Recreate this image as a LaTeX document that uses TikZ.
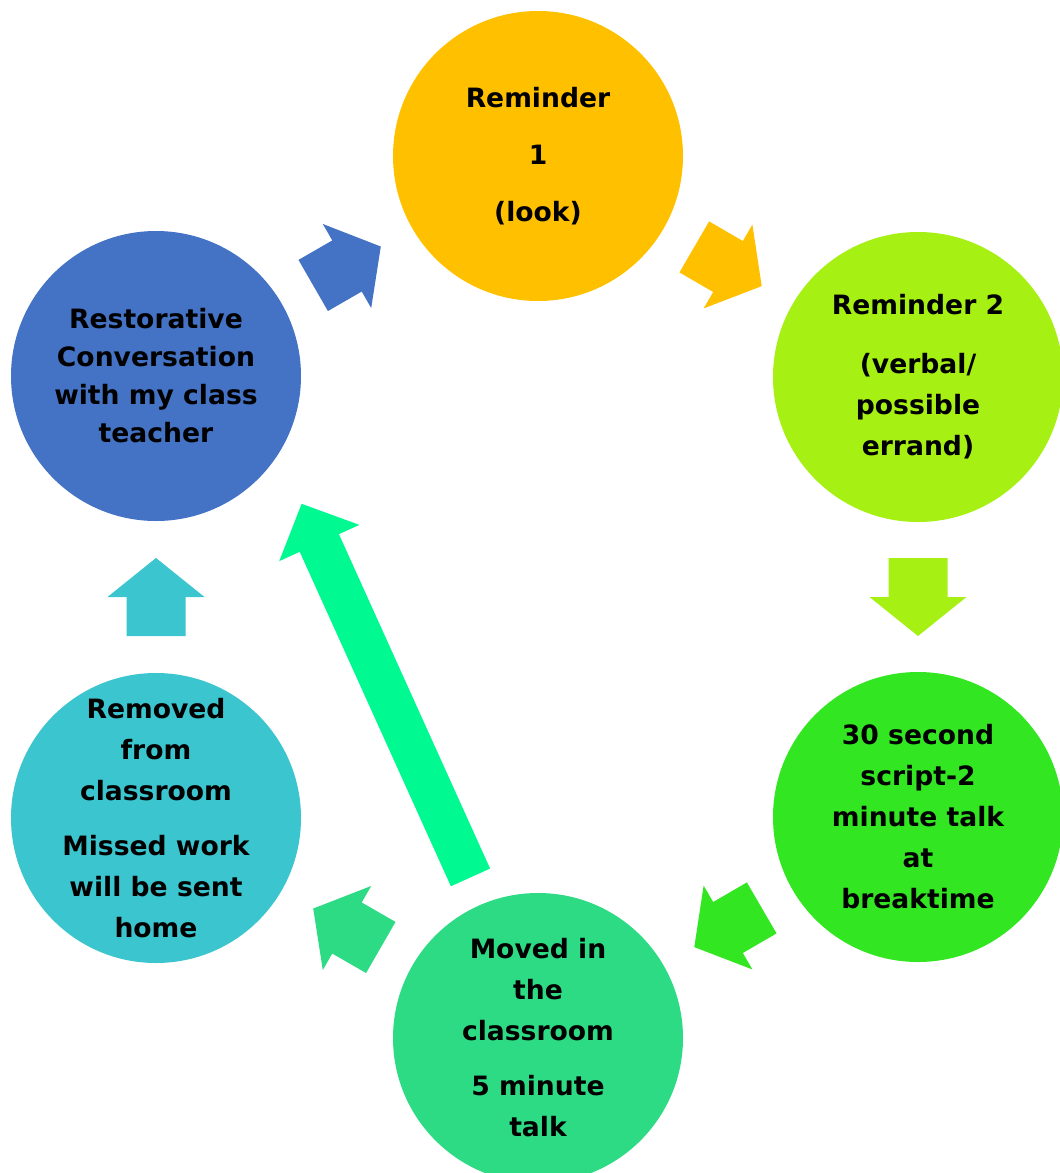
\documentclass[tikz,border=0pt]{standalone}
\usepackage{fontspec}
\setmainfont{DejaVu Sans}
\usetikzlibrary{calc}
\definecolor{cone}{HTML}{FFC000}
\definecolor{ctwo}{HTML}{A6F014}
\definecolor{cthree}{HTML}{32E622}
\definecolor{cfour}{HTML}{2EDB85}
\definecolor{cfive}{HTML}{3AC5CF}
\definecolor{csix}{HTML}{4472C4}
\definecolor{cbig}{HTML}{00F990}
\tikzset{
  stage/.style={circle, minimum size=145pt, inner sep=-30pt, align=center,
    text=black, font=\fontsize{13.3}{20.5}\selectfont\bfseries},
  pics/barrow/.style n args={4}{code={
    \fill ({-#1/2},{-#2}) -- ({#1/2-#4},{-#2}) -- ({#1/2-#4},{-#3}) -- ({#1/2},0)
      -- ({#1/2-#4},{#3}) -- ({#1/2-#4},{#2}) -- ({-#1/2},{#2}) -- cycle;
  }}
}
\newcommand\linkarrow[3]{%
  \path let \p1=(#1), \p2=(#2), \n1={atan2(\y2-\y1,\x2-\x1)} in
    ($(\p1)!0.5!(\p2)$) pic[rotate=\n1, fill=#3] {barrow={78}{29.5}{48.5}{39}};}
\begin{document}
\begin{tikzpicture}[x=0.5pt,y=-0.5pt]
\useasboundingbox (0,0) rectangle (1060,1173);
\node[stage, fill=cone] (r1) at (538,156) {Reminder\\[8pt]1\\[8pt](look)};
\node[stage, fill=ctwo] (r2) at (918,377) {Reminder 2\\[9pt](verbal/\\possible\\errand)};
\node[stage, fill=cthree] (r3) at (918,817) {30 second\\script-2\\minute talk\\at\\breaktime};
\node[stage, fill=cfour] (r4) at (538,1038) {Moved in\\the\\classroom\\[7pt]5 minute\\talk};
\node[stage, fill=cfive] (r5) at (156,818) {Removed\\from\\classroom\\[7pt]Missed work\\will be sent\\home};
\node[stage, fill=csix, font=\fontsize{13.3}{19}\selectfont\bfseries] (r6) at (156,376) {Restorative\\Conversation\\with my class\\teacher};
\linkarrow{r6.center}{r1.center}{csix}
\linkarrow{r1.center}{r2.center}{cone}
\linkarrow{r2.center}{r3.center}{ctwo}
\linkarrow{r3.center}{r4.center}{cthree}
\linkarrow{r4.center}{r5.center}{cfour}
\linkarrow{r5.center}{r6.center}{cfive}
\coordinate (bt) at (470.4,877.2);
\coordinate (bh) at (301.7,504);
\path let \p1=(bt), \p2=(bh), \n1={atan2(\y2-\y1,\x2-\x1)} in
  ($(\p1)!0.5!(\p2)$) pic[rotate=\n1, fill=cbig] {barrow={410}{21.5}{44}{43}};
\end{tikzpicture}
\end{document}
